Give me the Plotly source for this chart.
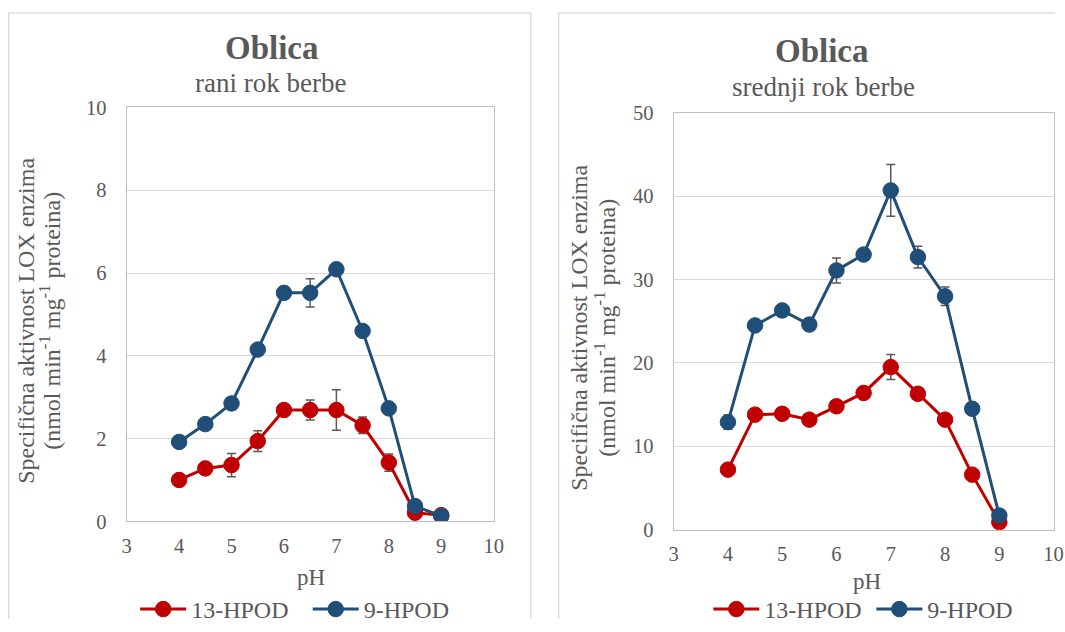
import plotly.graph_objects as go

# ---------------- data ----------------
ph = [4, 4.5, 5, 5.5, 6, 6.5, 7, 7.5, 8, 8.5, 9]

# left chart: rani rok berbe
rani_13 = [1.00, 1.28, 1.36, 1.94, 2.69, 2.69, 2.69, 2.32, 1.42, 0.21, 0.15]
rani_13_err = [0.05, 0.05, 0.28, 0.25, 0.08, 0.24, 0.49, 0.20, 0.21, 0.05, 0.03]
rani_9 = [1.92, 2.35, 2.85, 4.15, 5.52, 5.52, 6.09, 4.60, 2.73, 0.37, 0.13]
rani_9_err = [0.05, 0.05, 0.05, 0.08, 0.05, 0.34, 0.05, 0.08, 0.05, 0.05, 0.02]

# right chart: srednji rok berbe
sred_13 = [7.2, 13.8, 13.9, 13.2, 14.8, 16.4, 19.5, 16.3, 13.2, 6.6, 0.9]
sred_13_err = [0.3, 0.3, 0.3, 0.3, 0.4, 0.3, 1.5, 0.4, 0.3, 0.3, 0.1]
sred_9 = [12.9, 24.5, 26.3, 24.6, 31.1, 33.0, 40.7, 32.7, 28.0, 14.5, 1.7]
sred_9_err = [0.85, 0.3, 0.3, 0.3, 1.5, 0.3, 3.1, 1.3, 1.1, 0.3, 0.1]

series_names = ["13-HPOD", "9-HPOD"]
titles = ["Oblica", "Oblica"]
subtitles = ["rani rok berbe", "srednji rok berbe"]
x_title = "pH"
y_title_lines = ["Specifična aktivnost LOX enzima",
                 "(nmol min<sup>-1</sup> mg<sup>-1</sup> proteina)"]

# ---------------- styles ----------------
W, H = 1065, 632
FONT = "Liberation Serif, Times New Roman, DejaVu Serif, serif"
TXT = "#595959"
RED = "#c00000"
BLUE = "#1f4e79"
GRID = "#d9d9d9"
BOX = "#bfbfbf"

# the photographed page shows the figure slightly inset; positions below are
# given in picture pixels and converted to page fractions
SX, OX = 0.986, 4.3
SY, OY = 0.966, 10.2

def px(s):
    return ((s - OX) / SX) / W

def py(s):
    return 1 - ((s - OY) / SY) / H

fig = go.Figure()

def add_series(xa, ya, vals, errs, name, color, legend):
    fig.add_trace(go.Scatter(
        x=ph, y=vals, name=name, mode="lines+markers",
        xaxis=xa, yaxis=ya, legend=legend, showlegend=True,
        line=dict(color=color, width=3),
        marker=dict(color=color, size=15.5, line=dict(color=color, width=1)),
        error_y=dict(type="data", array=errs, visible=True,
                     color=TXT, thickness=1.5, width=4.5),
    ))

add_series("x", "y", rani_13, rani_13_err, series_names[0], RED, "legend")
add_series("x", "y", rani_9, rani_9_err, series_names[1], BLUE, "legend")
add_series("x2", "y2", sred_13, sred_13_err, series_names[0], RED, "legend2")
add_series("x2", "y2", sred_9, sred_9_err, series_names[1], BLUE, "legend2")

tickfont = dict(family=FONT, size=20.5, color=TXT)

def xaxis_cfg(domain, anchor):
    return dict(domain=domain, anchor=anchor, range=[3, 10], dtick=1, tick0=3,
                showgrid=False, zeroline=False, showline=True, linecolor=BOX,
                linewidth=1.3, mirror=True, ticks="", tickfont=tickfont,
                ticklabelstandoff=6)

def yaxis_cfg(domain, anchor, rng, dt):
    return dict(domain=domain, anchor=anchor, range=rng, dtick=dt,
                showgrid=True, gridcolor=GRID, gridwidth=1.3, zeroline=False,
                showline=True, linecolor=BOX, linewidth=1.3, mirror=True,
                ticks="", tickfont=tickfont, ticklabelstandoff=15)

L = dict(x0=126, x1=493, y0=107, y1=522.7)
R = dict(x0=673, x1=1053, y0=112.5, y1=531)

legfont = dict(family=FONT, size=24, color=TXT)
LEG_Y = 1 - 622.5 / H

fig.update_layout(
    width=W, height=H,
    margin=dict(l=0, r=0, t=0, b=0),
    paper_bgcolor="white", plot_bgcolor="white",
    font=dict(family=FONT, color=TXT, size=20),
    xaxis=xaxis_cfg([px(L["x0"]), px(L["x1"])], "y"),
    yaxis=yaxis_cfg([py(L["y1"]), py(L["y0"])], "x", [0, 10], 2),
    xaxis2=xaxis_cfg([px(R["x0"]), px(R["x1"])], "y2"),
    yaxis2=yaxis_cfg([py(R["y1"]), py(R["y0"])], "x2", [0, 50], 10),
    legend=dict(orientation="h", x=px(134.5), y=LEG_Y, xanchor="left",
                yanchor="middle", font=legfont, bgcolor="rgba(0,0,0,0)",
                itemwidth=46, entrywidth=111.5, entrywidthmode="pixels",
                tracegroupgap=0),
    legend2=dict(orientation="h", x=px(707.7), y=LEG_Y, xanchor="left",
                 yanchor="middle", font=legfont, bgcolor="rgba(0,0,0,0)",
                 itemwidth=46, entrywidth=102, entrywidthmode="pixels",
                 tracegroupgap=0),
    showlegend=True,
)

# panel borders (kept inside the page)
left_panel = "M {a},{b} L {a},{c} L {d},{c} L {d},{b}".format(
    a=px(8), b=0, c=py(12), d=px(530))
right_panel = "M {a},{b} L {a},{c} L {d},{c}".format(
    a=px(558), b=0, c=py(12), d=1)
for p in (left_panel, right_panel):
    fig.add_shape(type="path", path=p, xref="paper", yref="paper",
                  line=dict(color=GRID, width=1.3), layer="below")

# titles and axis titles
ann = []

def text_ann(text, x, y, size, angle=0):
    ann.append(dict(text=text, x=px(x), y=py(y - 1.4), xref="paper", yref="paper",
                    showarrow=False, xanchor="center", yanchor="middle",
                    textangle=angle, font=dict(family=FONT, size=size, color=TXT)))

for cx, ty, scx, sy, t, s in [(271, 48.5, 270, 84, titles[0], subtitles[0]),
                               (821, 52, 823, 88, titles[1], subtitles[1])]:
    text_ann("<b>" + t + "</b>", cx, ty, 33)
    text_ann(s, scx, sy, 27)

for x1, x2, cy in [(25, 49, 323), (578, 604, 330)]:
    text_ann(y_title_lines[0], x1, cy, 24, -90)
    text_ann(y_title_lines[1], x2, cy, 24, -90)

for cx, cy in [(310, 580), (866, 584)]:
    text_ann(x_title, cx, cy, 23)

fig.update_layout(annotations=ann)

fig.write_html(
    "out.html",
    config={"displayModeBar": False},
    post_script="document.body.style.margin='0';document.body.style.overflow='hidden';"
                "document.documentElement.style.overflow='hidden';",
)
